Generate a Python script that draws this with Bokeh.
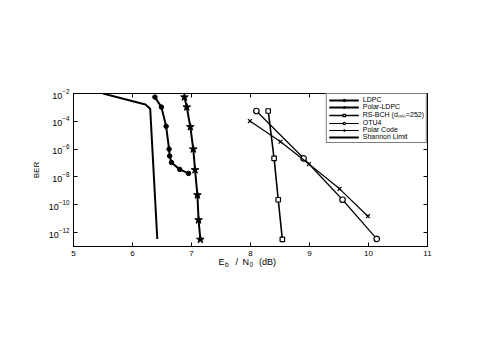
from bokeh.plotting import figure
from bokeh.models import (LogAxis, LinearAxis, FixedTicker, LogTickFormatter,
                          Label, Legend, LegendItem)
from bokeh.embed import file_html
from bokeh.resources import INLINE

# ---- data (Eb/N0 in dB, BER) ----
shannon_x = [5.5, 6.22, 6.30, 6.42]
shannon_y = [1e-2, 1.6e-3, 8e-4, 3.5e-13]

ldpc_x = [6.38, 6.49, 6.57, 6.62, 6.63, 6.66, 6.80, 6.95]
ldpc_y = [5.5e-3, 1.05e-3, 4.4e-5, 1e-6, 3.2e-7, 1.1e-7, 3.5e-8, 1.8e-8]

polar_ldpc_x = [6.88, 6.92, 6.98, 7.03, 7.06, 7.10, 7.12, 7.15]
polar_ldpc_y = [5.5e-3, 1.05e-3, 4e-5, 1e-6, 3.2e-8, 5e-10, 8e-12, 3.2e-13]

rsbch_x = [8.30, 8.40, 8.47, 8.54]
rsbch_y = [5.5e-4, 2.2e-7, 2.3e-10, 3.2e-13]

otu4_x = [8.10, 8.90, 9.56, 10.14]
otu4_y = [5.5e-4, 2.2e-7, 2.3e-10, 3.5e-13]

polar_x = [7.99, 8.51, 8.99, 9.51, 9.99]
polar_y = [1.05e-4, 3.4e-6, 8.5e-8, 1.4e-9, 1.5e-11]

x_ticks = [5, 6, 7, 8, 9, 10, 11]
y_ticks = [1e-12, 1e-10, 1e-8, 1e-6, 1e-4, 1e-2]

FONT = "Liberation Sans"

p = figure(width=485, height=346, x_range=(5, 11), y_range=(1e-13, 1e-2),
           y_axis_type="log", output_backend="svg", toolbar_location=None,
           min_border_left=73, min_border_right=58, min_border_top=93,
           min_border_bottom=100)
p.background_fill_color = "white"
p.border_fill_color = "white"
p.outline_line_color = "black"
p.outline_line_width = 1
p.xgrid.visible = False
p.ygrid.visible = False


def style_axis(ax, show_labels=True):
    ax.major_tick_in = 4
    ax.major_tick_out = 0
    ax.minor_tick_in = 0
    ax.minor_tick_out = 0
    ax.axis_line_color = "black"
    ax.major_tick_line_color = "black"
    ax.major_label_text_font = FONT
    ax.major_label_text_color = "black"
    ax.major_label_text_font_size = "8px"
    ax.major_label_standoff = 4
    if not show_labels:
        ax.major_label_text_alpha = 0


p.xaxis.ticker = FixedTicker(ticks=x_ticks)
p.yaxis.ticker = FixedTicker(ticks=y_ticks)
p.yaxis.formatter = LogTickFormatter()
style_axis(p.xaxis[0])
style_axis(p.yaxis[0])
p.yaxis.major_label_text_font_size = "9px"
p.yaxis.axis_label = "BER"
p.yaxis.axis_label_text_font = FONT
p.yaxis.axis_label_text_font_size = "8px"
p.yaxis.axis_label_text_font_style = "normal"
p.yaxis.axis_label_text_color = "black"
p.yaxis.axis_label_standoff = 5

top = LinearAxis(ticker=FixedTicker(ticks=x_ticks))
style_axis(top, False)
right = LogAxis(ticker=FixedTicker(ticks=y_ticks), formatter=LogTickFormatter())
style_axis(right, False)
p.add_layout(top, "above")
p.add_layout(right, "right")

items = []

r1 = p.line(ldpc_x, ldpc_y, line_color="black", line_width=2)
m1 = p.scatter(ldpc_x, ldpc_y, marker="circle", size=4.5, fill_color="black",
               line_color="black")
items.append(LegendItem(label="LDPC", renderers=[r1, m1]))

r2 = p.line(polar_ldpc_x, polar_ldpc_y, line_color="black", line_width=2)
m2 = p.scatter(polar_ldpc_x, polar_ldpc_y, marker="star", size=8,
               fill_color="black", line_color="black")
items.append(LegendItem(label="Polar-LDPC", renderers=[r2, m2]))

r3 = p.line(rsbch_x, rsbch_y, line_color="black", line_width=1.6)
m3 = p.scatter(rsbch_x, rsbch_y, marker="square", size=4.5, fill_color="white",
               line_color="black", line_width=1.2)
items.append(LegendItem(label="RS-BCH (dₘᵢₙ=252)", renderers=[r3, m3]))

r4 = p.line(otu4_x, otu4_y, line_color="black", line_width=1.2)
m4 = p.scatter(otu4_x, otu4_y, marker="circle", size=5.5, fill_color="white",
               line_color="black", line_width=1.2)
items.append(LegendItem(label="OTU4", renderers=[r4, m4]))

r5 = p.line(polar_x, polar_y, line_color="black", line_width=1.2)
m5 = p.scatter(polar_x, polar_y, marker="x", size=5.5, line_color="black",
               line_width=1.2)
items.append(LegendItem(label="Polar Code", renderers=[r5, m5]))

r6 = p.line(shannon_x, shannon_y, line_color="black", line_width=2)
items.append(LegendItem(label="Shannon Limit", renderers=[r6]))

legend = Legend(items=items, location="top_right", margin=0, padding=2,
                spacing=0, glyph_height=6, glyph_width=30, label_height=6,
                label_standoff=4, label_text_font=FONT,
                label_text_font_size="7px", label_text_color="black",
                border_line_color="black", border_line_width=1,
                background_fill_alpha=1)
p.add_layout(legend, "center")

# x axis label with subscripts: E_b / N_0 (dB); y is tied to the frame's bottom
parts = [("E", -32, 0, "9px"), ("b", -25.5, -3, "6.5px"), ("/", -15, 0, "9px"),
         ("N", -8, 0, "9px"), ("0", -1, -3, "6.5px"), ("(dB)", 8.5, 0, "9px")]
for txt, dx, dy, fs in parts:
    p.add_layout(Label(x=8, y=1e-13, x_units="data", y_units="data",
                       x_offset=dx, y_offset=-15 + dy, text=txt,
                       text_font=FONT, text_font_size=fs, text_align="left",
                       text_baseline="middle", text_color="black"), "below")

open("out.html", "w").write(file_html(p, INLINE))
